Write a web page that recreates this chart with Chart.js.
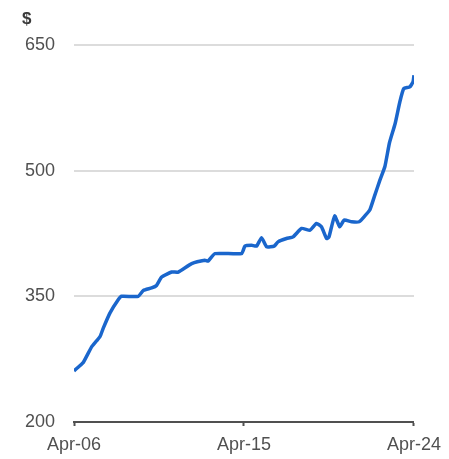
<!DOCTYPE html>
<html>
<head>
<meta charset="utf-8">
<script src="https://cdn.jsdelivr.net/npm/chart.js@4/dist/chart.umd.min.js"></script>
<style>
  html, body { margin: 0; padding: 0; background: #fff; }
  #wrap { width: 449px; height: 459px; }
</style>
</head>
<body>
<div id="wrap"><canvas id="priceChart"></canvas></div>
<script>
// Years since Apr-06 and the price at each point
var years = [0, 0.25, 0.49, 0.94, 1.2, 1.38, 1.55, 1.9, 2.34, 2.52, 3.4, 3.67, 4.11, 4.37,
    4.64, 5.17, 5.52, 6.23, 6.93, 7.1, 7.46, 8.87, 9.05, 9.4, 9.67, 9.93, 10.2, 10.6,
    10.8, 11.25, 11.6, 12.05, 12.5, 12.84, 13.1, 13.37, 13.5, 13.8, 14.07, 14.3, 14.7,
    15.1, 15.4, 15.66, 15.9, 16.2, 16.46, 16.7, 17.0, 17.25, 17.46, 17.78, 17.95, 18];
var prices = [261, 266, 271, 290, 297, 302, 312, 330, 346, 350, 350, 357, 360, 363,
    373, 379, 379, 389, 393, 392, 401, 401, 410, 411, 410, 420, 409, 410,
    415, 419, 421, 431, 429, 437, 433, 419, 421, 446, 433, 441, 439,
    439, 446, 453, 469, 489, 505, 533, 556, 582, 598, 600, 606, 614];

var tickValues = [0, 9, 18];
var tickLabels = ['Apr-06', 'Apr-15', 'Apr-24'];
var yTicks = [200, 350, 500, 650];

var points = years.map(function(x, i) {
    return { x: x, y: prices[i] };
});

/**
 * Draws the "$" unit label above the value axis
 */
var unitLabel = {
    id: 'unitLabel',
    afterDraw: function(chart) {
        var ctx = chart.ctx;
        ctx.save();
        ctx.font = 'bold 17px "Liberation Sans", Arial, sans-serif';
        ctx.fillStyle = '#3a3a3a';
        ctx.textBaseline = 'middle';
        ctx.textAlign = 'left';
        ctx.fillText('$', 22, 19);
        ctx.restore();
    }
};

Chart.defaults.font.family = '"Liberation Sans", Arial, sans-serif';

new Chart(document.getElementById('priceChart'), {
    type: 'line',
    data: {
        datasets: [{
            data: points,
            borderColor: '#1a66cc',
            borderWidth: 3.5,
            pointRadius: 0,
            tension: 0.15,
            fill: false
        }]
    },
    options: {
        responsive: true,
        maintainAspectRatio: false,
        animation: false,
        layout: {
            padding: { top: 45, right: 35, bottom: 0, left: 0 }
        },
        plugins: {
            legend: { display: false },
            tooltip: { enabled: false }
        },
        scales: {
            x: {
                type: 'linear',
                min: 0,
                max: 18,
                afterBuildTicks: function(scale) {
                    scale.ticks = tickValues.map(function(v) { return { value: v }; });
                },
                afterFit: function(scale) {
                    scale.height = 37;
                },
                border: { display: true, color: '#505050', width: 2 },
                grid: {
                    drawOnChartArea: false,
                    drawTicks: true,
                    tickLength: 4,
                    tickWidth: 2,
                    tickColor: '#505050'
                },
                ticks: {
                    padding: 8,
                    maxRotation: 0,
                    color: '#505050',
                    font: { size: 18 },
                    callback: function(value) {
                        var i = tickValues.indexOf(value);
                        return i >= 0 ? tickLabels[i] : '';
                    }
                }
            },
            y: {
                min: 200,
                max: 650,
                afterBuildTicks: function(scale) {
                    scale.ticks = yTicks.map(function(v) { return { value: v }; });
                },
                afterFit: function(scale) {
                    scale.width = 74;
                },
                border: { display: false },
                grid: {
                    color: '#dcdcdc',
                    lineWidth: 2,
                    drawTicks: false
                },
                ticks: {
                    padding: 19,
                    color: '#505050',
                    font: { size: 18 }
                }
            }
        }
    },
    plugins: [unitLabel]
});
</script>
</body>
</html>
